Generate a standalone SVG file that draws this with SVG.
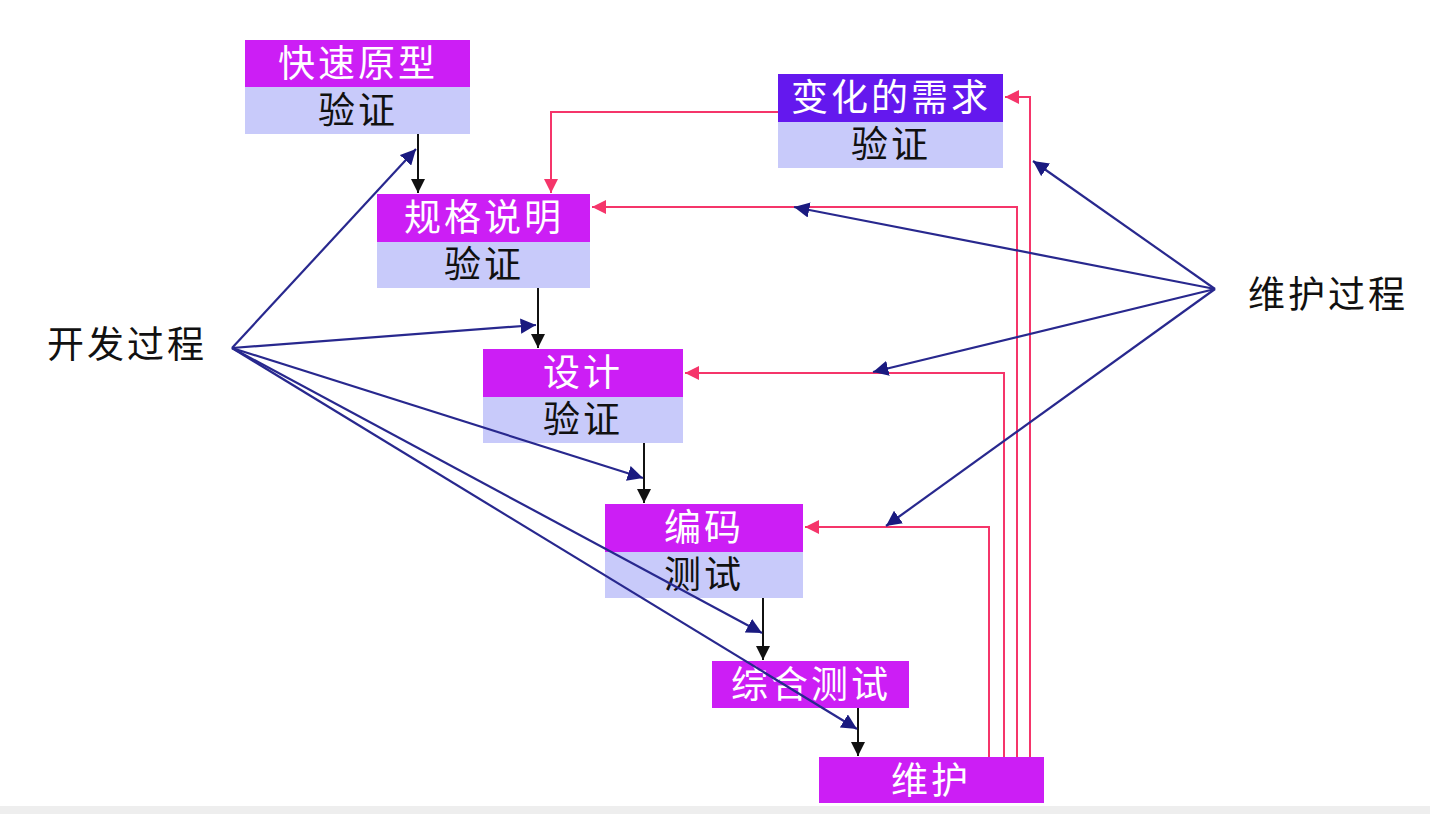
<svg xmlns="http://www.w3.org/2000/svg" width="1430" height="814" viewBox="0 0 1430 814">
<style>
.top{fill:#CC1EF5}
.chg{fill:#6418EE}
.low{fill:#C8CAFA}
.t{font-family:"Liberation Sans","Noto Sans CJK SC",sans-serif;font-size:37px;text-anchor:middle;letter-spacing:3px}
.w{fill:#ffffff}
.k{fill:#111111}
.blk{stroke:#111;stroke-width:2;fill:none;marker-end:url(#ab)}
.red{stroke:#F5356A;stroke-width:2;fill:none}
.ra{marker-end:url(#ar)}
.blu{stroke:#28288E;stroke-width:2.2;fill:none;marker-end:url(#au)}
</style>
<defs>
<marker id="ab" viewBox="0 0 10 10" refX="10" refY="5" markerWidth="7" markerHeight="7" orient="auto" markerUnits="strokeWidth"><path d="M0,0 L10,5 L0,10 z" fill="#111"/></marker>
<marker id="ar" viewBox="0 0 10 10" refX="10" refY="5" markerWidth="7" markerHeight="7" orient="auto" markerUnits="strokeWidth"><path d="M0,0 L10,5 L0,10 z" fill="#F5356A"/></marker>
<marker id="au" viewBox="0 0 10 10" refX="10" refY="5" markerWidth="7" markerHeight="7" orient="auto" markerUnits="strokeWidth"><path d="M0,0 L10,5 L0,10 z" fill="#1a1a80"/></marker>
</defs>
<rect x="0" y="0" width="1430" height="814" fill="#ffffff"/>
<rect x="0" y="806" width="1430" height="8" fill="#eeeeee"/>

<g id="n-prototype">
<rect class="top" x="245" y="40" width="225" height="47"/>
<rect class="low" x="245" y="87" width="225" height="47"/>
<text class="t w" x="358" y="77">快速原型</text>
<text class="t k" x="358" y="124">验证</text>
</g>
<g id="n-changes">
<rect class="chg" x="778" y="74" width="225" height="48"/>
<rect class="low" x="778" y="122" width="225" height="46"/>
<text class="t w" x="891" y="111">变化的需求</text>
<text class="t k" x="891" y="158">验证</text>
</g>
<g id="n-spec">
<rect class="top" x="377" y="194" width="213" height="48"/>
<rect class="low" x="377" y="242" width="213" height="46"/>
<text class="t w" x="484" y="231">规格说明</text>
<text class="t k" x="484" y="278">验证</text>
</g>
<g id="n-design">
<rect class="top" x="483" y="349" width="200" height="48"/>
<rect class="low" x="483" y="397" width="200" height="46"/>
<text class="t w" x="583" y="386">设计</text>
<text class="t k" x="583" y="433">验证</text>
</g>
<g id="n-code">
<rect class="top" x="605" y="504" width="198" height="48"/>
<rect class="low" x="605" y="552" width="198" height="46"/>
<text class="t w" x="704" y="541">编码</text>
<text class="t k" x="704" y="588">测试</text>
</g>
<g id="n-integration">
<rect class="top" x="712" y="661" width="197" height="47"/>
<text class="t w" x="811" y="698">综合测试</text>
</g>
<g id="n-maintenance">
<rect class="top" x="819" y="757" width="225" height="46"/>
<text class="t w" x="931" y="794">维护</text>
</g>
<g id="n-dev">
<text class="t k" x="127" y="358">开发过程</text>
</g>
<g id="n-maint">
<text class="t k" x="1328" y="308">维护过程</text>
</g>

<g id="connectors">
<line class="blk" x1="418" y1="134" x2="418" y2="193"/>
<line class="blk" x1="538" y1="288" x2="538" y2="348"/>
<line class="blk" x1="644" y1="443" x2="644" y2="503"/>
<line class="blk" x1="763" y1="598" x2="763" y2="660"/>
<line class="blk" x1="858" y1="708" x2="858" y2="756"/>
<polyline class="red ra" points="989,757 989,527 805,527"/>
<polyline class="red ra" points="1004,757 1004,373 685,373"/>
<polyline class="red ra" points="1017,757 1017,207 592,207"/>
<polyline class="red ra" points="1030,757 1030,97 1005,97"/>
<polyline class="red ra" points="778,112 551,112 551,193"/>
<line class="blu" x1="232" y1="348" x2="416" y2="149"/>
<line class="blu" x1="232" y1="348" x2="536" y2="325"/>
<line class="blu" x1="232" y1="348" x2="643" y2="478"/>
<line class="blu" x1="232" y1="348" x2="762" y2="633"/>
<line class="blu" x1="232" y1="348" x2="857" y2="729"/>
<line class="blu" x1="1215" y1="289" x2="1033" y2="161"/>
<line class="blu" x1="1215" y1="289" x2="794" y2="207"/>
<line class="blu" x1="1215" y1="289" x2="873" y2="372"/>
<line class="blu" x1="1215" y1="289" x2="886" y2="526"/>
</g>
</svg>
